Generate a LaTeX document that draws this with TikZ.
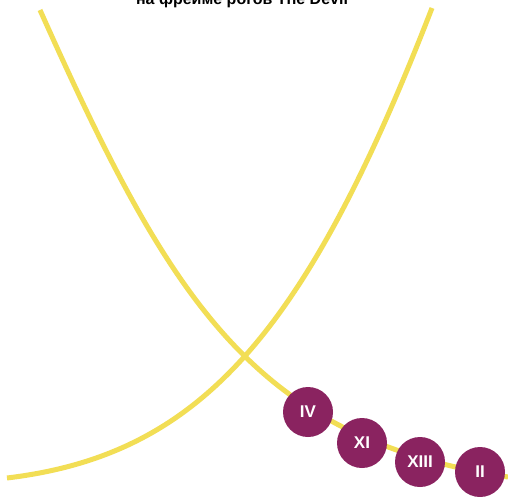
\documentclass[tikz,border=0pt]{standalone}
\usepackage{fontspec}
\setmainfont{Liberation Sans}
\definecolor{hornyellow}{HTML}{F2DE55}
\definecolor{cardplum}{HTML}{8A2360}
\begin{document}
\begin{tikzpicture}[x=1pt,y=-1pt,
  horn/.style={draw=hornyellow,line width=5pt},
  card/.style={circle,fill=cardplum,minimum size=50pt,inner sep=0pt,text=white,font=\bfseries\fontsize{17}{19}\selectfont}]
\useasboundingbox (0,0) rectangle (508,497);
\fill[white] (0,0) rectangle (508,497);
\node[anchor=base,font=\bfseries\fontsize{16}{18}\selectfont] (title) at (242,5) {на фрейме рогов The Devil};
\draw[horn] (40,10) .. controls (172,305) and (255,438) .. (508,477);
\draw[horn] (7,478) .. controls (198,455) and (304.2,337.6) .. (432,8);
\node[card] (iv) at (308,412) {IV};
\node[card] (xi) at (362,443) {XI};
\node[card] (xiii) at (420,462) {XIII};
\node[card] (ii) at (480,472) {II};
\end{tikzpicture}
\end{document}
